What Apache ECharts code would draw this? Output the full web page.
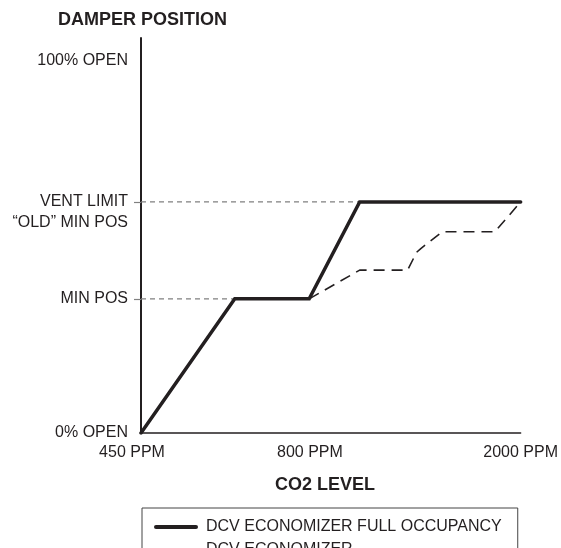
<!DOCTYPE html>
<html>
<head>
<meta charset="utf-8">
<script src="https://cdn.jsdelivr.net/npm/echarts@6/dist/echarts.min.js"></script>
<style>
    html,body{margin:0;padding:0;background:#fff;}
    #main{width:561px;height:548px;}
</style>
</head>
<body>
<div id="main"></div>
<script>
    // x is position along the CO2 axis (0 = 450 PPM, 100 = 2000 PPM), y is damper position
    let xTicks = [0, 44.5, 100];
    let xLabels = ["450 PPM", "800 PPM", "2000 PPM"];
    let yTicks = [0, 36, 56.4, 62, 100];
    let yLabels = ["0% OPEN", "MIN POS", "“OLD” MIN POS", "VENT LIMIT", "100% OPEN"];
    let guideTicks = [36, 62];

    let fullX = [0, 24.7, 44.3, 57.6, 100];
    let fullY = [0, 36, 36, 62, 62];
    let dcvX = [44.3, 57.6, 70.2, 72.6, 73.7, 79.4, 93.2, 100];
    let dcvY = [36, 43.7, 43.7, 48.5, 49.5, 54, 54, 62];

    // thin guide lines from the axis
    let minGuideX = [0, 24.7];
    let minGuideY = [36, 36];
    let ventGuideX = [0, 57.6];
    let ventGuideY = [62, 62];

    function pairs(xs, ys) {
        let arr = [];
        for (let i = 0; i < xs.length; i++) {
            arr.push([xs[i], ys[i]]);
        }
        return arr;
    }

    let font = "Liberation Sans, Arial, sans-serif";
    let ink = "#231f20";

    let myChart = echarts.init(document.getElementById("main"));
    let option = {
        animation: false,
        title: [
            {
                text: "DAMPER POSITION",
                left: 58, top: 11, padding: 0,
                textStyle: {fontFamily: font, fontSize: 18, fontWeight: "bold", color: ink}
            },
            {
                text: "CO2 LEVEL",
                left: 275, top: 476, padding: 0,
                textStyle: {fontFamily: font, fontSize: 18, fontWeight: "bold", color: ink}
            }
        ],
        legend: {
            data: [
                {name: "DCV ECONOMIZER FULL OCCUPANCY", lineStyle: {width: 4}},
                {name: "DCV ECONOMIZER", lineStyle: {width: 1.6}}
            ],
            orient: "vertical",
            left: 142, top: 508,
            height: 80,
            padding: [11, 16, 11, 12],
            borderColor: "#444",
            borderWidth: 1,
            borderRadius: 0,
            itemWidth: 40,
            itemHeight: 14,
            itemGap: 7,
            itemStyle: {opacity: 0},
            textStyle: {fontFamily: font, fontSize: 16, color: ink, padding: [0, 0, 0, 5]}
        },
        grid: {left: 141, right: 37, top: 38, bottom: 115, containLabel: false},
        xAxis: {
            type: "value",
            min: 0,
            max: 100,
            splitLine: {show: false},
            axisTick: {show: false},
            axisLine: {onZero: false, lineStyle: {color: ink, width: 1.5}},
            axisLabel: {
                customValues: xTicks,
                margin: 12,
                fontFamily: font, fontSize: 16, color: ink,
                formatter: function (v) {
                    let i = xTicks.indexOf(v);
                    if (i === 0) return "{a|" + xLabels[i] + "}";
                    return i >= 0 ? xLabels[i] : "";
                },
                rich: {a: {fontFamily: font, fontSize: 16, color: ink, padding: [0, 18, 0, 0]}}
            }
        },
        yAxis: {
            type: "value",
            min: 0,
            max: 106,
            splitLine: {show: false},
            axisTick: {
                show: true,
                customValues: guideTicks,
                length: 7,
                lineStyle: {color: "#808080", width: 1.2}
            },
            axisLine: {onZero: false, lineStyle: {color: ink, width: 2}},
            axisLabel: {
                customValues: yTicks,
                margin: 13,
                fontFamily: font, fontSize: 16, color: ink,
                formatter: function (v) {
                    let i = yTicks.indexOf(v);
                    return i >= 0 ? yLabels[i] : "";
                }
            }
        },
        series: [
            {
                name: "min guide",
                type: "line",
                symbol: "none",
                silent: true,
                z: 1,
                lineStyle: {color: "#808080", width: 1.2, type: [5, 4]},
                data: pairs(minGuideX, minGuideY)
            },
            {
                name: "vent guide",
                type: "line",
                symbol: "none",
                silent: true,
                z: 1,
                lineStyle: {color: "#808080", width: 1.2, type: [5, 4]},
                data: pairs(ventGuideX, ventGuideY)
            },
            {
                name: "DCV ECONOMIZER",
                type: "line",
                symbol: "none",
                z: 2,
                itemStyle: {color: ink},
                lineStyle: {color: ink, width: 1.6, type: [11, 7]},
                data: pairs(dcvX, dcvY)
            },
            {
                name: "DCV ECONOMIZER FULL OCCUPANCY",
                type: "line",
                symbol: "none",
                z: 3,
                itemStyle: {color: ink},
                lineStyle: {color: ink, width: 3.5, cap: "round", join: "miter"},
                data: pairs(fullX, fullY)
            }
        ]
    };

    myChart.setOption(option);
</script>
</body>
</html>
